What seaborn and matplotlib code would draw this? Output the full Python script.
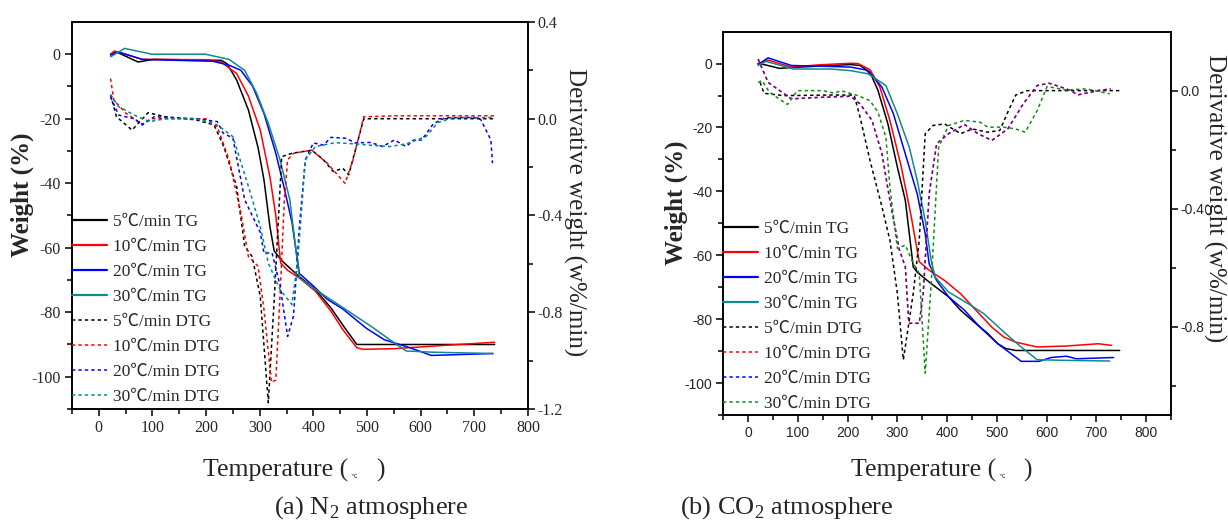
import matplotlib
matplotlib.use("Agg")
import matplotlib.pyplot as plt
from matplotlib.lines import Line2D
from matplotlib.ticker import FixedLocator
import seaborn as sns

# ---- data ----
rates = ["5", "10", "20", "30"]

# (a) N2 atmosphere, TG (weight %)
a_tg5_t = [22, 33, 73, 103, 228, 239, 257, 279, 297, 308, 319, 327, 341, 374, 404, 433, 455, 481, 738]
a_tg5_w = [0, 0.7, -2.4, -1.6, -1.9, -2.9, -8, -17.3, -29, -39, -53.4, -61, -64, -69, -73, -78.7, -84, -90, -90]
a_tg10_t = [22, 29, 81, 199, 228, 257, 279, 301, 319, 330, 339, 352, 374, 404, 433, 455, 481, 492, 551, 624, 738]
a_tg10_w = [0, 1, -1.6, -1.7, -2.4, -6, -13, -23.5, -38, -50, -64.7, -67, -69.4, -73.5, -79.7, -85.4, -91, -91.5,
            -91.3, -90.5, -89.3]
a_tg20_t = [22, 37, 81, 213, 243, 265, 287, 308, 330, 345, 360, 374, 397, 426, 455, 499, 532, 580, 620, 735]
a_tg20_w = [-0.3, 0.7, -1.6, -2.2, -3.4, -5, -10, -18.4, -30.7, -41, -52, -68, -71.4, -76, -79, -85, -88.5, -91,
            -93.4, -92.8]
a_tg30_t = [22, 48, 99, 199, 243, 272, 294, 316, 338, 356, 374, 404, 441, 507, 551, 573, 624, 735]
a_tg30_w = [-0.8, 1.8, 0, 0, -1.6, -5, -12, -21.4, -32.8, -45, -69.4, -73, -77, -84.3, -89.5, -92, -92.4, -92.8]

# (a) N2 atmosphere, DTG (w%/min)
a_dtg5_t = [22, 33, 62, 92, 124, 182, 215, 233, 257, 272, 286, 301, 316, 327, 341, 360, 397, 419, 437, 455, 466,
            494, 738]
a_dtg5_d = [0.098, 0.008, -0.047, 0.025, 0.008, -0.005, -0.026, -0.115, -0.28, -0.528, -0.57, -0.734, -1.174,
            -0.748, -0.157, -0.143, -0.13, -0.17, -0.218, -0.205, -0.232, 0, 0]
a_dtg10_t = [22, 28, 51, 81, 99, 199, 221, 243, 265, 279, 297, 308, 322, 330, 339, 346, 352, 363, 397, 426, 459,
             474, 494, 551, 740]
a_dtg10_d = [0.166, 0.077, 0.022, -0.022, 0, 0, -0.033, -0.17, -0.39, -0.57, -0.61, -0.79, -1.09, -1.08, -0.68,
             -0.335, -0.17, -0.143, -0.13, -0.184, -0.267, -0.17, 0.008, 0.012, 0.012]
a_dtg20_t = [22, 37, 66, 81, 103, 182, 221, 232, 250, 272, 301, 308, 323, 338, 352, 363, 374, 385, 400, 419, 433,
             462, 477, 507, 529, 551, 573, 587, 602, 624, 646, 698, 712, 731, 734]
a_dtg20_d = [0.09, 0.015, 0, -0.026, 0.008, 0, -0.012, -0.06, -0.08, -0.335, -0.47, -0.555, -0.555, -0.69, -0.9,
             -0.816, -0.445, -0.17, -0.1, -0.109, -0.077, -0.081, -0.1, -0.098, -0.115, -0.088, -0.115, -0.088,
             -0.088, -0.02, 0.004, 0.005, -0.003, -0.088, -0.184]
a_dtg30_t = [22, 37, 66, 95, 124, 182, 221, 250, 279, 301, 316, 338, 360, 371, 385, 404, 441, 477, 514, 543, 573,
             610, 632, 661, 735]
a_dtg30_d = [0.1, 0.05, 0.015, -0.012, 0, 0, -0.026, -0.074, -0.28, -0.445, -0.597, -0.707, -0.768, -0.583, -0.17,
             -0.115, -0.099, -0.104, -0.111, -0.115, -0.104, -0.074, -0.016, 0.005, 0.005]

# (b) CO2 atmosphere, TG (weight %)
b_tg5_t = [20, 32, 63, 103, 206, 225, 245, 261, 281, 300, 316, 332, 340, 364, 403, 427, 458, 482, 502, 518, 538, 747]
b_tg5_w = [0, -0.3, -1.5, -1.1, -0.3, -0.6, -2.7, -8.4, -18.9, -32.4, -42.8, -63.7, -65.3, -68.4, -73, -77.2, -81.4,
           -84.5, -87.7, -89.2, -89.8, -89.8]
b_tg10_t = [20, 40, 87, 142, 206, 221, 245, 265, 285, 308, 328, 344, 364, 395, 427, 458, 490, 514, 538, 581, 640,
            704, 731]
b_tg10_w = [0, 1.1, -1.1, -0.4, 0.1, 0, -1.9, -7.4, -17.8, -32.4, -48, -62, -64.7, -67.9, -72, -77.2, -82.5, -85.6,
            -87.2, -88.7, -88.4, -87.7, -88.2]
b_tg20_t = [20, 40, 87, 142, 206, 237, 253, 269, 292, 316, 340, 356, 364, 379, 403, 435, 466, 502, 549, 585, 609,
            640, 660, 735]
b_tg20_w = [-0.3, 1.8, -0.6, -0.8, -1.1, -2, -4.3, -7.4, -15.7, -28.3, -40.8, -53.3, -62.7, -67.9, -73, -77.2,
            -82.5, -87.7, -93.2, -93.2, -92, -91.6, -92.4, -92]
b_tg30_t = [20, 36, 91, 166, 206, 241, 257, 277, 300, 324, 340, 356, 368, 376, 403, 443, 474, 514, 545, 581, 640, 727]
b_tg30_w = [-0.6, 0.7, -1.7, -1.7, -2.2, -3.2, -4.8, -6.9, -15.7, -26.2, -36.6, -49.1, -61.6, -66.8, -71.5, -75.2,
            -78.3, -84, -88.2, -92.7, -92.9, -93.1]

# (b) CO2 atmosphere, DTG (w%/min); 10 and 20 C/min lie on top of each other
b_dtg5_t = [24, 32, 71, 166, 213, 225, 245, 269, 285, 300, 312, 320, 332, 344, 356, 372, 395, 427, 451, 482, 506,
            522, 538, 561, 747]
b_dtg5_d = [0.028, -0.009, -0.017, -0.015, -0.015, -0.09, -0.237, -0.394, -0.507, -0.687, -0.913, -0.823, -0.687,
            -0.507, -0.146, -0.118, -0.113, -0.146, -0.13, -0.141, -0.135, -0.073, -0.015, 0, 0]
b_dtg20_t = [20, 40, 87, 142, 206, 225, 249, 269, 285, 304, 316, 323, 332, 344, 352, 364, 379, 403, 435, 462, 490,
             522, 553, 581, 605, 640, 664, 704, 729]
b_dtg20_d = [0.107, 0.028, -0.028, -0.023, -0.019, -0.045, -0.101, -0.214, -0.372, -0.54, -0.597, -0.789, -0.789,
             -0.789, -0.687, -0.349, -0.18, -0.146, -0.115, -0.146, -0.169, -0.13, -0.045, 0.017, 0.025, 0.006,
             -0.014, 0, 0.006]
b_dtg10_t = b_dtg20_t
b_dtg10_d = b_dtg20_d
b_dtg30_t = [20, 28, 43, 79, 99, 150, 174, 186, 221, 245, 261, 277, 285, 300, 316, 332, 344, 356, 368, 383, 403,
             435, 466, 482, 514, 538, 557, 581, 601, 640, 680, 727]
b_dtg30_d = [0.028, 0.034, -0.006, -0.047, 0, 0, -0.009, 0, -0.017, -0.034, -0.073, -0.158, -0.327, -0.535, -0.524,
             -0.586, -0.62, -0.958, -0.654, -0.192, -0.118, -0.101, -0.107, -0.124, -0.124, -0.13, -0.141, -0.068,
             0.014, 0.002, 0.006, -0.011]

x_ticks = [0, 100, 200, 300, 400, 500, 600, 700, 800]
x_labels = ["0", "100", "200", "300", "400", "500", "600", "700", "800"]
w_ticks = [0, -20, -40, -60, -80, -100]
w_labels = ["0", "-20", "-40", "-60", "-80", "-100"]
a_d_ticks = [0.4, 0.0, -0.4, -0.8, -1.2]
a_d_labels = ["0.4", "0.0", "-0.4", "-0.8", "-1.2"]
b_d_ticks = [0.0, -0.4, -0.8]
b_d_labels = ["0.0", "-0.4", "-0.8"]

legend_labels = [r + "℃/min TG" for r in rates] + [r + "℃/min DTG" for r in rates]

tg_colors = ["#000000", "#ff0000", "#0000ff", "#108a8a"]
a_dtg_colors = ["#000000", "#ff0000", "#0000ff", "#008b8b"]
b_dtg_colors = ["#000000", "#ff0000", "#0000ff", "#109010"]
dots = (0, (2.2, 2.0))

sns.set_style("ticks")
plt.rcParams["font.family"] = ["Liberation Serif", "Noto Sans CJK SC"]
plt.rcParams["mathtext.fontset"] = "custom"
plt.rcParams["mathtext.rm"] = "Liberation Serif"
plt.rcParams["axes.linewidth"] = 1.2

fig = plt.figure(figsize=(12.28, 5.23), dpi=100)
ax_a = fig.add_axes([0.0586, 0.218, 0.3713, 0.740])
ax_b = fig.add_axes([0.589, 0.2065, 0.3645, 0.733])


def draw_panel(ax, tg, dtg, dtg_colors, dtg_alpha, xlim, dlim, d_ticks, d_labels, d_minor,
               tick_font, tick_size, lab_pos):
    ax2 = ax.twinx()
    for (t, w), c in zip(tg, tg_colors):
        sns.lineplot(x=t, y=w, color=c, linewidth=1.1, ax=ax)
    for (t, d), c, al in zip(dtg, dtg_colors, dtg_alpha):
        sns.lineplot(x=t, y=d, color=c, linewidth=1.1, linestyle=dots, alpha=al, ax=ax2)

    ax.set_xlim(*xlim)
    ax.set_ylim(-110, 10)
    ax2.set_ylim(*dlim)
    ax.set_xticks(x_ticks, x_labels, fontfamily=tick_font, fontsize=tick_size)
    ax.xaxis.set_minor_locator(FixedLocator([v + 50 for v in [-100] + x_ticks]))
    ax.set_yticks(w_ticks, w_labels, fontfamily=tick_font, fontsize=tick_size)
    ax.yaxis.set_minor_locator(FixedLocator([-10, -30, -50, -70, -90, -110]))
    ax2.set_yticks(d_ticks, d_labels, fontfamily=tick_font, fontsize=tick_size)
    ax2.yaxis.set_minor_locator(FixedLocator(d_minor))
    for a in (ax, ax2):
        a.tick_params(which="major", direction="out", length=5, width=1.1, pad=3, color="black")
        a.tick_params(which="minor", direction="out", length=3.5, width=1.1, color="black")
        for s in a.spines.values():
            s.set_visible(True)
            s.set_linewidth(1.2)
            s.set_color("black")
    ax.tick_params(top=False, which="both")
    ax2.tick_params(axis="y", which="major", pad=2)

    ax.set_ylabel("Weight (%)", fontsize=18, fontweight="bold", va="center", ha="center")
    ax.yaxis.set_label_coords(lab_pos[0], lab_pos[1])
    ax2.set_ylabel("Derivative weight (w%/min)", fontsize=18, rotation=270, va="center", ha="center")
    ax2.yaxis.set_label_coords(lab_pos[2], lab_pos[3])

    handles = [Line2D([], [], color=c, lw=1.6) for c in tg_colors]
    handles += [Line2D([], [], color=c, lw=1.1, linestyle=dots) for c in dtg_colors]
    ax2.legend(handles, legend_labels, loc="upper left", bbox_to_anchor=(0.0, lab_pos[4]), frameon=False,
               borderaxespad=0, borderpad=0, handlelength=2.0, handletextpad=0.35, labelspacing=0.51,
               prop={"size": 12.5})
    return ax2


draw_panel(ax_a,
           [(a_tg5_t, a_tg5_w), (a_tg10_t, a_tg10_w), (a_tg20_t, a_tg20_w), (a_tg30_t, a_tg30_w)],
           [(a_dtg5_t, a_dtg5_d), (a_dtg10_t, a_dtg10_d), (a_dtg20_t, a_dtg20_d), (a_dtg30_t, a_dtg30_d)],
           a_dtg_colors, [1, 1, 1, 1], (-50, 800), (-1.2, 0.4), a_d_ticks, a_d_labels,
           [0.2, -0.2, -0.6, -1.0], "Liberation Serif", 11.5,
           (-0.110, 0.553, 1.102, 0.509, 0.505))

draw_panel(ax_b,
           [(b_tg5_t, b_tg5_w), (b_tg10_t, b_tg10_w), (b_tg20_t, b_tg20_w), (b_tg30_t, b_tg30_w)],
           [(b_dtg5_t, b_dtg5_d), (b_dtg10_t, b_dtg10_d), (b_dtg20_t, b_dtg20_d), (b_dtg30_t, b_dtg30_d)],
           b_dtg_colors, [1, 1, 0.6, 1], (-50, 850), (-1.1, 0.2), b_d_ticks, b_d_labels,
           [-0.2, -0.6, -1.0], "Liberation Sans", 10,
           (-0.106, 0.553, 1.098, 0.566, 0.507))

# x-axis titles: the degree sign shows up tiny between the brackets
label_y = 1 - 470 / 523
fig.text(348 / 1228, label_y, "Temperature (", fontsize=18.5, ha="right", va="center")
fig.text(354 / 1228, 1 - 477 / 523, "℃", fontsize=4, ha="center", va="center")
fig.text(376 / 1228, label_y, ")", fontsize=18.5, ha="left", va="center")
fig.text(996 / 1228, label_y, "Temperature (", fontsize=18.5, ha="right", va="center")
fig.text(1002 / 1228, 1 - 477 / 523, "℃", fontsize=4, ha="center", va="center")
fig.text(1023 / 1228, label_y, ")", fontsize=18.5, ha="left", va="center")

fig.text(371 / 1228, 1 - 508 / 523, "(a) N$_2$ atmosphere", fontsize=19, ha="center", va="center")
fig.text(787 / 1228, 1 - 508 / 523, "(b) CO$_2$ atmosphere", fontsize=19, ha="center", va="center")

fig.savefig("out.png", dpi=100)
